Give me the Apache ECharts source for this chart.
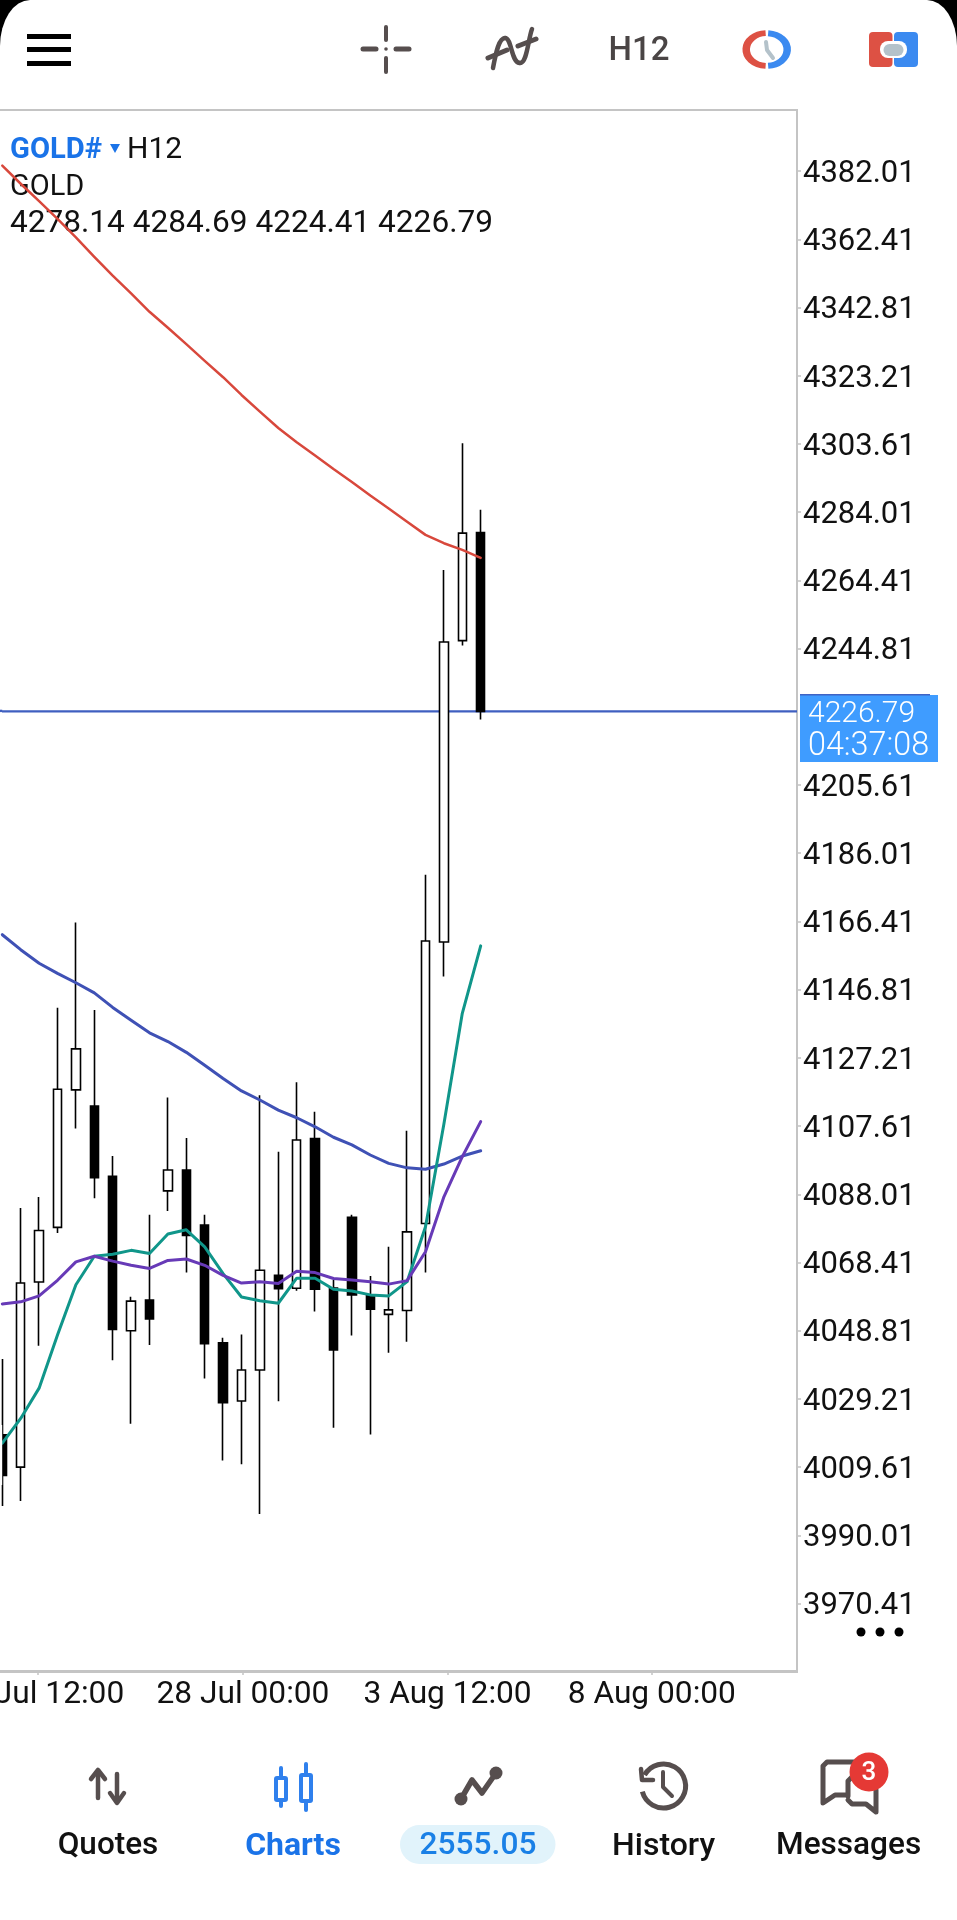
<!DOCTYPE html>
<html>
<head>
<meta charset="utf-8">
<style>
html,body{margin:0;padding:0;background:#000;}
#main{width:957px;height:1920px;background:#fff;border-top-left-radius:30px 46px;border-top-right-radius:30px 46px;overflow:hidden;}
</style>
<script src="https://cdn.jsdelivr.net/npm/echarts@6/dist/echarts.min.js"></script>
</head>
<body>
<div id="main"></div>
<script>
// ---- data ----
const open  = [4018.9,4009.6,4062.8,4078.5,4118.0,4113.4,4093.2,4048.8,4057.6,4089.0,4095.0,4079.2,4045.3,4028.6,4037.5,4064.7,4061.0,4104.0,4061.1,4081.4,4059.1,4053.5,4054.6,4079.6,4160.5,4247.1,4278.14];
const close = [4007.2,4062.5,4077.6,4118.2,4129.8,4092.8,4049.2,4057.3,4052.2,4095.0,4076.2,4045.1,4028.1,4037.5,4066.2,4060.9,4103.6,4060.7,4043.3,4059.1,4055.0,4054.8,4077.2,4160.8,4246.7,4278.0,4226.79];
const low   = [3998.4,3999.9,4044.5,4076.9,4106.9,4086.9,4040.3,4022.1,4044.7,4083.2,4065.5,4035.1,4011.5,4010.4,3996.1,4028.5,4060.3,4054.3,4020.9,4047.4,4019.0,4042.5,4045.6,4065.5,4150.6,4245.7,4224.41];
const high  = [4040.7,4084.1,4087.2,4141.6,4166.1,4141.0,4099.0,4058.6,4082.1,4115.8,4104.2,4082.1,4046.8,4047.7,4116.5,4100.2,4120.2,4111.7,4063.4,4082.1,4064.5,4072.9,4106.3,4179.8,4267.4,4303.8,4284.69];
const maRed = [4383.6,4378.4,4373.4,4368.3,4363.0,4357.4,4352.0,4346.9,4341.6,4337.0,4332.3,4327.5,4322.8,4317.7,4312.9,4308.2,4304.1,4300.3,4296.4,4292.7,4288.8,4285.1,4281.3,4277.5,4275.1,4273.2,4270.9];
const maBlue = [4162.6,4158.3,4154.4,4151.5,4148.8,4145.9,4141.7,4138.0,4134.4,4131.9,4128.8,4125.1,4121.3,4117.7,4115.1,4112.2,4110.0,4107.4,4104.4,4102.2,4099.3,4096.9,4095.6,4095.2,4096.7,4099.0,4100.5];
const maPurple = [4056.5,4057.1,4058.8,4063.3,4068.6,4070.2,4068.8,4067.6,4066.7,4069.0,4069.4,4067.6,4064.7,4062.5,4062.9,4062.4,4065.9,4065.5,4063.8,4063.4,4062.9,4062.2,4063.2,4071.5,4087.3,4098.8,4108.9];
const maTeal = [4016.5,4023.6,4032.3,4047.6,4062.0,4070.2,4070.8,4071.9,4071.0,4076.6,4077.8,4072.9,4065.2,4058.5,4057.4,4056.7,4063.9,4063.9,4060.7,4060.2,4059.1,4058.8,4062.9,4078.7,4108.2,4140.0,4159.4];
const lastPrice = 4226.79;
const countdown = '04:37:08';
const yTicks = [3970.41,3990.01,4009.61,4029.21,4048.81,4068.41,4088.01,4107.61,4127.21,4146.81,4166.41,4186.01,4205.61,4244.81,4264.41,4284.01,4303.61,4323.21,4342.81,4362.41,4382.01];
const xTickBars = [1.93,13.08,24.2,35.3];
const xLabelBars = [3.11,13.08,24.2,35.3];   // the first label is cut by the screen edge: only its visible part is kept
const xLabels = ['Jul 12:00','28 Jul 00:00','3 Aug 12:00','8 Aug 00:00'];
const ohlcText = '4278.14 4284.69 4224.41 4226.79';

const candles = open.map((o,i)=>[i,o,close[i],low[i],high[i]]);
const idx = a => a.map((v,i)=>[i,v]);

// ---- screen furniture helpers ----
const GREY='#564e4e', BLUE='#1a73e8', ICONBLUE='#2f80ed', RED='#dd5144', FF='Roboto';
const bar=(x,y,w,h,fill,r)=>({type:'rect',shape:{x,y,width:w,height:h,r:r||0},style:{fill}});
const pl=(pts,stroke,w)=>({type:'polyline',shape:{points:pts},style:{stroke,lineWidth:w,fill:null,lineCap:'round',lineJoin:'round'}});
const dot=(cx,cy,r,fill)=>({type:'circle',shape:{cx,cy,r},style:{fill}});
const box=(x,y,w,h,stroke,lw,r)=>({type:'rect',shape:{x,y,width:w,height:h,r:r||0},style:{fill:'#fff',stroke,lineWidth:lw}});
const txt=(x,y,text,size,fill,weight,align)=>({type:'text',x,y,z:1,style:{text,fill,font:(weight||400)+' '+size+'px '+FF,textAlign:align||'left',textVerticalAlign:'middle'}});
const earc=(cx,cy,r,sy,a0,a1,stroke,w)=>({type:'arc',x:cx,y:cy,scaleY:sy,shape:{cx:0,cy:0,r,startAngle:a0*Math.PI/180,endAngle:a1*Math.PI/180},style:{stroke,lineWidth:w,fill:null}});
const curve=(x1,y1,cpx1,cpy1,cpx2,cpy2,x2,y2)=>({type:'bezierCurve',shape:{x1,y1,cpx1,cpy1,cpx2,cpy2,x2,y2},style:{stroke:GREY,lineWidth:4.5,fill:null,lineCap:'round'}});

const furniture = [
  // plot frame
  bar(0,109,798,2,'#c4c4c4'), bar(0,1670,798,3,'#c4c4c4'),
  // the plot is cut 2px from the screen edge
  Object.assign(bar(0,1425,2.2,60,'#fff'),{z:20}),
  bar(0,709.7,2.2,2.4,'#3f5fc0'),
  // hamburger
  bar(27,34,44,5,'#000'), bar(27,47,44,5,'#000'), bar(27,61,44,5,'#000'),
  // crosshair
  pl([[386,27],[386,40]],GREY,4), pl([[386,58],[386,72]],GREY,4), pl([[363,49],[376,49]],GREY,5), pl([[396,49],[409,49]],GREY,5), dot(386,49,1.8,GREY),
  // indicators
  curve(493,68,496,52,499,38,505,38),
  curve(505,38,512,38,511,63,520,63),
  curve(520,63,527,63,528,40,532,29),
  pl([[488,58],[507,50]],GREY,5), pl([[518,46],[536,39]],GREY,5),
  txt(639,52,'H12',33,'#4a4545',500,'center'),
  // clock icon
  earc(766.7,49.5,20.5,.8,93,267,RED,7.5), earc(766.7,49.5,20.5,.8,-86,86,'#3b8af0',7.5),
  pl([[766,42],[767,50],[773,58]],'#b4c2ca',4),
  // account icon
  bar(869,32,23.5,35,RED,4), bar(894,32,24,35,'#3b8af0',4),
  bar(880,41,27,17,'#fff',8), bar(883.5,44,20,12,'#b4c2ca',6),
  // legend
  txt(10,150.5,'GOLD#',29.2,BLUE,700),
  {type:'polygon',shape:{points:[[110,144],[120,144],[115,153]]},style:{fill:BLUE}},
  txt(127,150.5,'H12',30,'#111'),
  txt(10,187.5,'GOLD',29,'#111'),
  txt(10,224.5,ohlcText,31.6,'#111'),
  // current price tag
  bar(800,695,138,67,'#3f9cff'),
  bar(800,694,130,1.5,'#3f63c4'),
  txt(808,714,lastPrice.toFixed(2),30,'#fff',300),
  txt(808,747,countdown,32.3,'#fff',300),
  // more dots
  dot(861,1632,4.5,'#000'), dot(880,1632,4.5,'#000'), dot(899,1632,4.5,'#000'),
  // bottom nav: quotes
  pl([[98,1798],[98,1771]],GREY,4.5), pl([[91,1779],[98,1770],[105,1779]],GREY,4.5),
  pl([[117,1774],[117,1802]],GREY,4.5), pl([[110,1793],[117,1803],[124,1793]],GREY,4.5),
  txt(108,1846.5,'Quotes',31.5,'#111',500,'center'),
  // charts
  pl([[281,1768],[281,1806]],ICONBLUE,4), box(276,1778,10,22,ICONBLUE,4,1),
  pl([[306,1764],[306,1810]],ICONBLUE,4), box(301,1775,10,26,ICONBLUE,4,1),
  txt(293,1846.5,'Charts',32,BLUE,700,'center'),
  // trade
  pl([[461,1799],[472,1780],[482,1793],[496,1773]],GREY,5.5), dot(461,1799,6.5,GREY), dot(496,1773,6.5,GREY),
  bar(400,1825,155.5,39,'#e1f3fb',19.5),
  txt(478,1846.5,'2555.05',31.7,'#1a80e6',500,'center'),
  // history
  {type:'arc',shape:{cx:663.6,cy:1786,r:22,startAngle:-150*Math.PI/180,endAngle:165*Math.PI/180},style:{stroke:GREY,lineWidth:5,fill:null}},
  pl([[641,1769],[642,1780],[653,1780]],GREY,4.5),
  pl([[663,1772],[663,1787],[672,1796]],GREY,4),
  txt(663.6,1846.5,'History',32,'#111',500,'center'),
  // messages
  pl([[862,1762],[827,1762],[823,1766],[823,1803],[835,1795],[846,1795]],GREY,5),
  pl([[848,1796],[848,1781],[853,1776]],GREY,5),
  pl([[876,1790],[876,1812],[866,1804],[852,1804],[848,1800]],GREY,5),
  dot(869,1772,19.5,'#e53935'),
  txt(869,1773,'3',26,'#fff',500,'center'),
  txt(848.6,1846.5,'Messages',31.6,'#111',500,'center')
];

const lineSeries = (name,values,color,z,width)=>({name,type:'line',data:idx(values),showSymbol:false,symbol:'none',z,silent:true,
  lineStyle:{color,width,cap:'round',join:'round'}});

const chart = echarts.init(document.getElementById('main'),null,{width:957,height:1920});
chart.setOption({
  animation:false,
  tooltip:{show:false},
  grid:{left:2,top:110,width:795,height:1561,containLabel:false,outerBoundsMode:'none',show:false},
  xAxis:{type:'value',min:-0.016,max:43.19,
    splitLine:{show:false},
    axisLine:{show:false},
    axisTick:{show:true,length:4,inside:false,customValues:xTickBars,lineStyle:{color:'#c4c4c4',width:1.5}},
    axisLabel:{show:true,customValues:xLabelBars,margin:8,fontFamily:FF,fontSize:31.7,color:'#111',hideOverlap:false,
      showMinLabel:true,showMaxLabel:true,
      formatter:v=>{const k=xLabelBars.indexOf(v);return k>=0?xLabels[k]:'';}}
  },
  yAxis:{type:'value',position:'right',min:3951.02,max:4399.59,scale:true,
    splitLine:{show:false},
    axisLine:{show:true,onZero:false,lineStyle:{color:'#c4c4c4',width:2}},
    axisTick:{show:true,length:4,customValues:yTicks,lineStyle:{color:'#c4c4c4',width:1.5}},
    axisLabel:{show:true,customValues:yTicks,margin:6,verticalAlign:'top',lineHeight:6,fontFamily:FF,fontSize:31,color:'#111',
      formatter:v=>v.toFixed(2)}
  },
  graphic:{elements:furniture},
  series:[
    {name:'Last price',type:'line',data:[[-0.016,lastPrice],[43.19,lastPrice]],showSymbol:false,symbol:'none',z:1,silent:true,
      lineStyle:{color:'#3f5fc0',width:2.4}},
    {name:'GOLD#',type:'candlestick',data:candles,encode:{x:0,y:[1,2,3,4]},barWidth:9,z:2,silent:true,
      itemStyle:{color:'#ffffff',color0:'#000000',borderColor:'#000000',borderColor0:'#000000',borderColorDoji:'#000000',borderWidth:1.6}},
    lineSeries('MA red',maRed,'#d8483c',3,2.5),
    lineSeries('MA blue',maBlue,'#3f51b5',3,3),
    lineSeries('MA teal',maTeal,'#10968a',4,3),
    lineSeries('MA purple',maPurple,'#673ab7',5,3)
  ]
});
</script>
</body>
</html>
